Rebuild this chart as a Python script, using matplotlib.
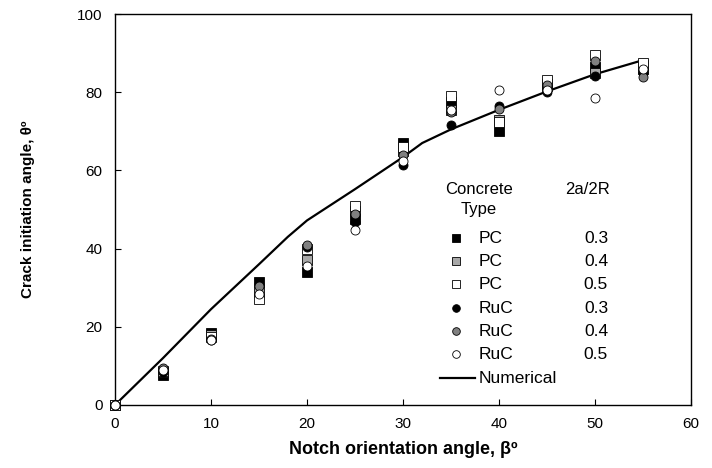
import matplotlib
matplotlib.use("Agg")
import matplotlib.pyplot as plt

plt.rcParams['font.family'] = ['Liberation Sans', 'DejaVu Sans']

beta = [0, 5, 10, 15, 20, 25, 30, 35, 40, 45, 50, 55]
pc03 = [0, 7.8, 18.5, 31.5, 34.0, 47.5, 67.0, 77.5, 70.0, 82.0, 86.5, 86.0]
pc04 = [0, 8.5, 18.0, 29.0, 37.0, 49.5, 65.0, 75.5, 73.0, 81.5, 85.0, 87.0]
pc05 = [0, 8.8, 17.5, 27.0, 40.0, 51.0, 66.0, 79.0, 72.5, 83.0, 89.5, 87.5]
ruc03 = [0, 8.5, 16.5, 31.0, 40.5, 46.8, 61.5, 71.5, 76.5, 80.0, 84.2, 85.0]
ruc04 = [0, 9.5, 17.0, 30.5, 41.0, 48.8, 64.0, 75.0, 75.7, 81.8, 88.0, 84.0]
ruc05 = [0, 9.0, 16.5, 28.5, 35.5, 44.8, 62.5, 75.5, 80.6, 80.5, 78.5, 86.0]

num_beta = [0, 5, 10, 15, 18, 20, 25, 30, 32, 35, 40, 45, 50, 55]
num_theta = [0, 12.0, 24.5, 36.0, 43.0, 47.2, 55.2, 63.4, 67.0, 70.5, 75.5, 80.2, 84.6, 88.2]

series = [
    ("PC", "0.3", pc03, 's', 'black'),
    ("PC", "0.4", pc04, 's', '#A8A8A8'),
    ("PC", "0.5", pc05, 's', 'white'),
    ("RuC", "0.3", ruc03, 'o', 'black'),
    ("RuC", "0.4", ruc04, 'o', '#808080'),
    ("RuC", "0.5", ruc05, 'o', 'white'),
]

fig = plt.figure(figsize=(7.12, 4.68), dpi=100)
ax = fig.add_axes([115/712, 1 - 405/468, 576/712, 391/468])

ax.plot(num_beta, num_theta, color='black', lw=1.6, zorder=2)
for ctype, ratio, vals, mk, fc in series:
    ax.plot(beta, vals, linestyle='none', marker=mk, ms=6.5, mfc=fc,
            mec='black', mew=0.6, zorder=3, clip_on=False)

ax.set_xlim(0, 60)
ax.set_ylim(0, 100)
ax.set_xticks(range(0, 61, 10))
ax.set_yticks(range(0, 101, 20))
ax.tick_params(direction='in', length=4, labelsize=11, pad=9)
for s in ax.spines.values():
    s.set_linewidth(1.0)

ax.set_xlabel("Notch orientation angle, β\u00ba", fontsize=13, fontweight='bold')
ax.set_ylabel("Crack initiation angle, θ\u00ba", fontsize=11, fontweight='bold')
ax.xaxis.set_label_coords(0.5, -0.093)
ax.yaxis.set_label_coords(-0.139, 0.5)

# manual legend
tr = ax.transAxes
ax.text(0.632, 0.552, "Concrete", transform=tr, ha='center', va='center', fontsize=12)
ax.text(0.632, 0.501, "Type", transform=tr, ha='center', va='center', fontsize=12)
ax.text(0.821, 0.552, "2a/2R", transform=tr, ha='center', va='center', fontsize=12)
rows = [0.427, 0.368, 0.309, 0.248, 0.189, 0.130]
for (ctype, ratio, vals, mk, fc), yr in zip(series, rows):
    ax.plot([0.592], [yr], transform=tr, marker=mk, ms=5.5, mfc=fc, mec='black',
            mew=0.6, linestyle='none', clip_on=False)
    ax.text(0.632, yr, ctype, transform=tr, ha='left', va='center', fontsize=12.5)
    ax.text(0.856, yr, ratio, transform=tr, ha='right', va='center', fontsize=12.5)
ax.plot([0.564, 0.625], [0.069, 0.069], transform=tr, color='black', lw=1.6)
ax.text(0.632, 0.069, "Numerical", transform=tr, ha='left', va='center', fontsize=12.5)

fig.savefig("out.png", dpi=100)
